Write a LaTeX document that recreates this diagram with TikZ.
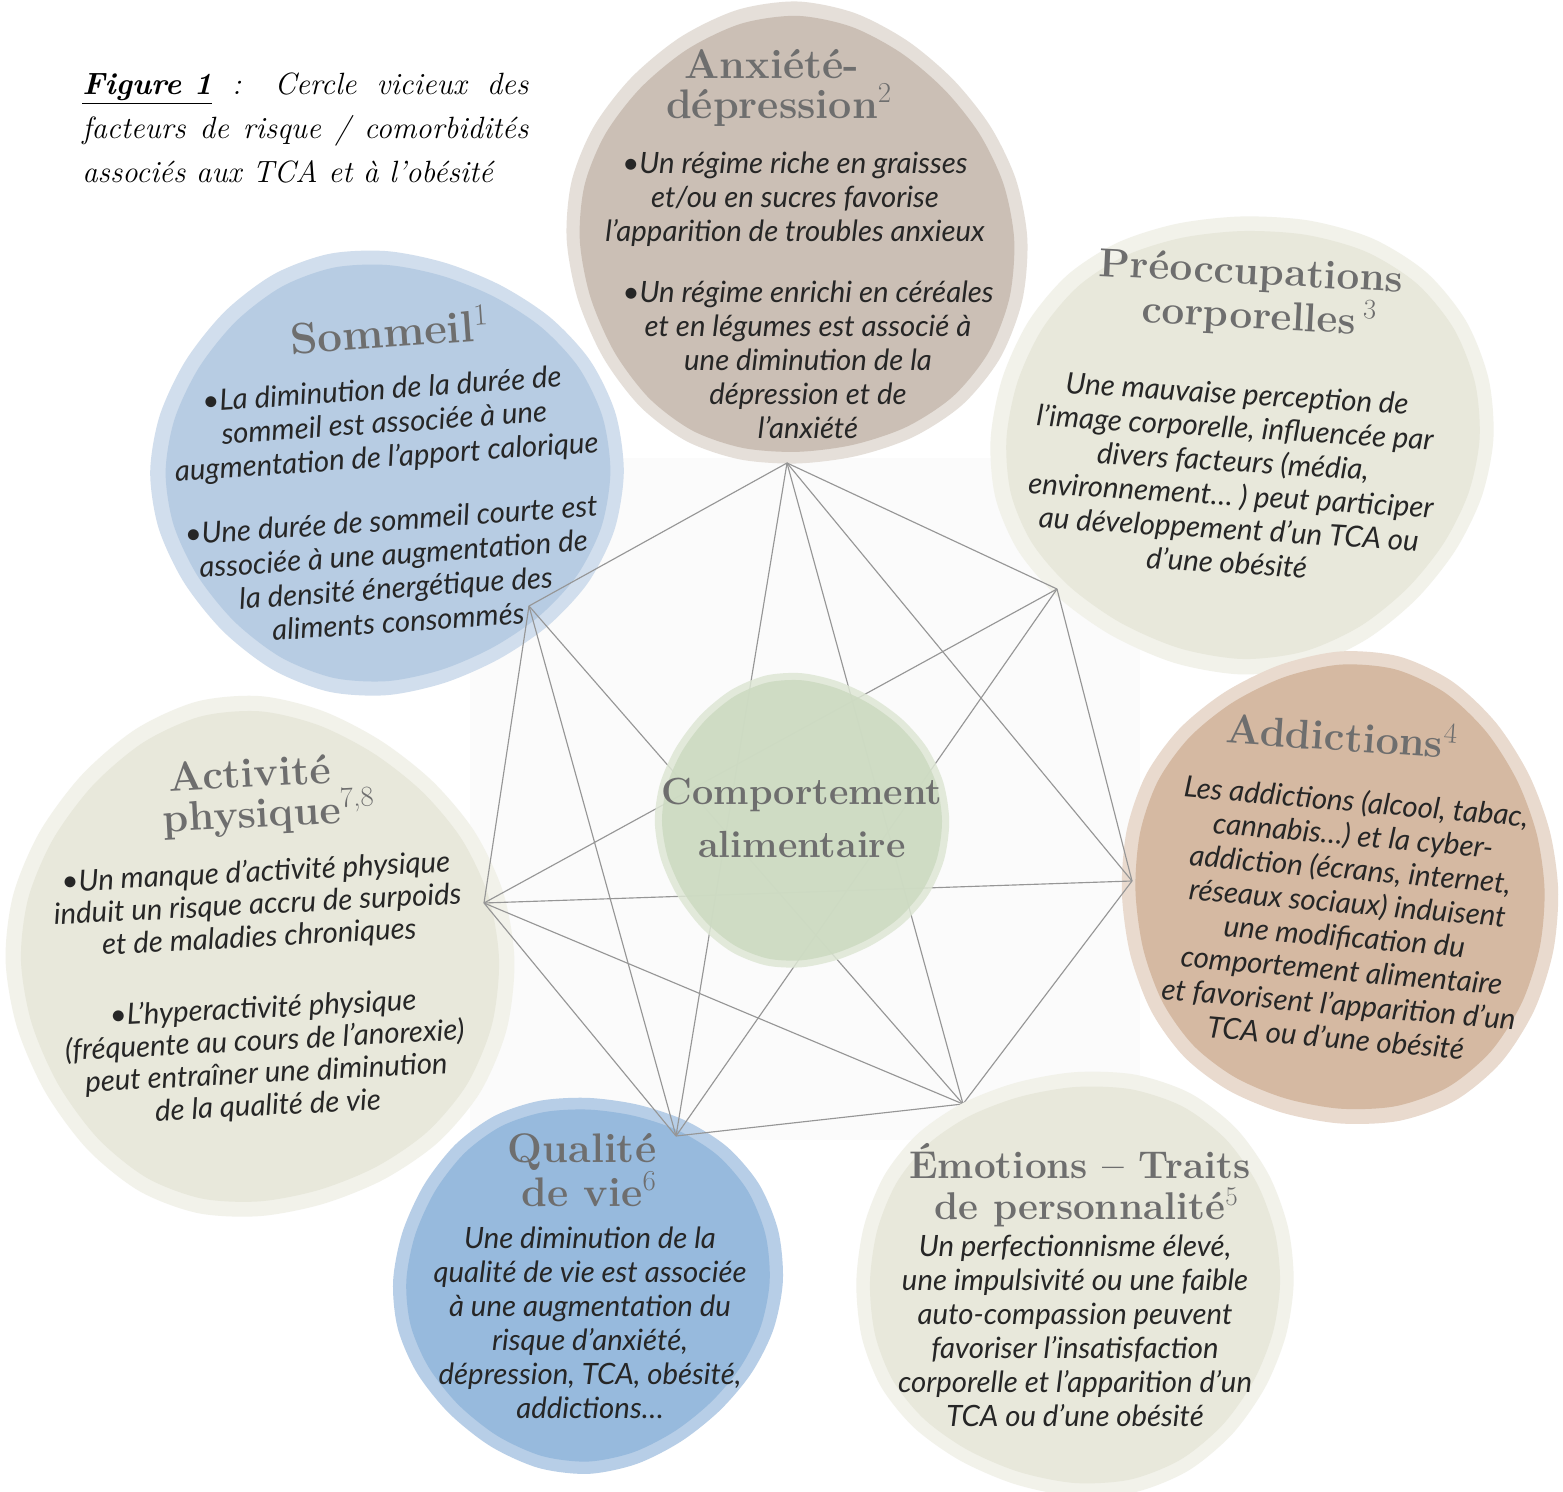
\documentclass[tikz,border=0pt]{standalone}
\usepackage{fontspec}
\usepackage{tikz}
\newfontfamily\latofont{Lato}
\definecolor{anxbrown}{RGB}{203, 191, 181}
\definecolor{anxring}{RGB}{229, 223, 217}
\definecolor{sleepblue}{RGB}{183, 204, 227}
\definecolor{sleepring}{RGB}{209, 222, 237}
\definecolor{sage}{RGB}{232, 232, 219}
\definecolor{sagering}{RGB}{242, 242, 234}
\definecolor{clay}{RGB}{213, 185, 162}
\definecolor{clayring}{RGB}{233, 218, 206}
\definecolor{lifeblue}{RGB}{151, 186, 221}
\definecolor{lifering}{RGB}{183, 206, 231}
\definecolor{leaf}{RGB}{204, 218, 193}
\definecolor{leafring}{RGB}{222, 231, 213}
\definecolor{titlegray}{RGB}{110, 110, 110}
\definecolor{inkgray}{RGB}{38, 38, 38}
\definecolor{wiregray}{RGB}{150, 150, 150}
\definecolor{backdrop}{RGB}{251, 251, 251}

% wobbly disc: centre x, centre y, radius x, radius y, phase, fill options
\newcommand{\tcablob}[6]{%
  \fill[#6] plot[smooth cycle, domain=0:345, samples=24, variable=\t]
    ({#1+#3*cos(\t)*(1+0.03*sin(2*\t+#5))}, {#2+#4*sin(\t)*(1+0.03*sin(3*\t+#5))});%
}

\tikzset{
  heading/.style={font=\fontsize{23.5}{23}\selectfont\bfseries, text=titlegray, align=center, inner sep=0pt},
  blurb/.style={font=\latofont\itshape\fontsize{16.7}{19.3}\selectfont, text=inkgray, align=center, inner sep=0pt},
  wire/.style={wiregray, line width=0.65pt},
}

\begin{document}
\begin{tikzpicture}[x=0.2mm, y=-0.2mm]
            \useasboundingbox (0,0) rectangle (1563,1492);
            \fill[white] (0,0) rectangle (1563,1492);
            \fill[backdrop] (470,458) rectangle (1140,1140);
            % Caption
            \node[anchor=north west, inner sep=0pt, text width=89.2mm, align=justify,
                  font=\itshape\fontsize{17.5}{25}\selectfont] (caption) at (82,73)
                 {\underline{\textbf{Figure 1}} : Cercle vicieux des\linebreak
                  facteurs de risque / comorbidités\linebreak
                  associés aux TCA et à l'obésité};
            % Discs
            \tcablob{797}{239}{228}{231}{20}{anxring}
            \tcablob{797}{240}{215}{218}{20}{anxbrown}
            \tcablob{387}{472}{230}{222}{100}{sleepring}
            \tcablob{388}{472}{216}{208}{100}{sleepblue}
            \tcablob{1242}{439}{254}{229}{200}{sagering}
            \tcablob{1243}{439}{239}{214}{200}{sage}
            \tcablob{1340}{891}{224}{236}{300}{clayring}
            \tcablob{1340}{890}{210}{222}{300}{clay}
            \tcablob{260}{960}{248}{260}{60}{sagering}
            \tcablob{260}{960}{233}{245}{60}{sage}
            \tcablob{588}{1281}{192}{188}{150}{lifering}
            \tcablob{588}{1281}{179}{176}{150}{lifeblue}
            % Network
            \coordinate (vAnx) at (787,463);
            \coordinate (vPre) at (1057,589);
            \coordinate (vAdd) at (1132,881);
            \coordinate (vEmo) at (963,1104);
            \coordinate (vQua) at (676,1136);
            \coordinate (vAct) at (484,903);
            \coordinate (vSom) at (529,606);
            \draw[wire] (vAnx) -- (vSom);
            \draw[wire] (vAnx) -- (vPre);
            \draw[wire] (vAnx) -- (vQua);
            \draw[wire] (vAnx) -- (vEmo);
            \draw[wire] (vAnx) -- (vAdd);
            \draw[wire] (vSom) -- (vAct);
            \draw[wire] (vSom) -- (vQua);
            \draw[wire] (vSom) -- (vEmo);
            \draw[wire] (vPre) -- (vAct);
            \draw[wire] (vPre) -- (vQua);
            \draw[wire] (vPre) -- (vAdd);
            \draw[wire] (vAct) -- (vAdd);
            \draw[wire] (vAct) -- (vEmo);
            \draw[wire] (vAct) -- (vQua);
            \draw[wire] (vAdd) -- (vEmo);
            \draw[wire] (vQua) -- (vEmo);
            % Discs above the network
            \tcablob{1075}{1282}{225}{212}{250}{sagering}
            \tcablob{1075}{1283}{211}{198}{250}{sage}
            \tcablob{802}{821}{143}{147}{80}{leafring, fill opacity=0.85}
            \tcablob{802}{821}{136}{140}{80}{leaf, fill opacity=0.85}
            % Headings
            \node[heading] (tAnx) at (772,88) {Anxiété-\\dépression\rlap{\textsuperscript{\mdseries 2}}};
            \node[heading, rotate=4, font=\fontsize{25}{25}\selectfont\bfseries] (tSom) at (382,330) {Sommeil\rlap{\textsuperscript{\mdseries 1}}};
            \node[heading, rotate=-3, font=\fontsize{23}{23}\selectfont\bfseries] (tPre) at (1250,296) {Préoccupations\\corporelles\rlap{\,\textsuperscript{\mdseries 3}}};
            \node[heading, rotate=-4] (tAdd) at (1335,733) {Addictions\rlap{\textsuperscript{\mdseries 4}}};
            \node[heading, rotate=3] (tAct) at (251,797) {Activité\\physique\rlap{\textsuperscript{\mdseries 7,8}}};
            \node[heading] (tQua) at (582,1170) {Qualité\\de vie\rlap{\textsuperscript{\mdseries 6}}};
            \node[heading, font=\fontsize{22}{23}\selectfont\bfseries] (tEmo) at (1080,1185) {Émotions – Traits\\de personnalité\rlap{\textsuperscript{\mdseries 5}}};
            \node[heading, font=\fontsize{21.5}{30}\selectfont\bfseries] (tCom) at (802,818) {Comportement\\alimentaire};
            % Texts
            \node[blurb] (bAnxA) at (795,199)
                 {•Un régime riche en graisses\\ et/ou en sucres favorise\\ l’apparition de troubles anxieux};
            \node[blurb] (bAnxB) at (808,360)
                 {•Un régime enrichi en céréales\\ et en légumes est associé à\\ une diminution de la\\ dépression et de\\ l’anxiété};
            \node[blurb, rotate=4] (bSom) at (390,505)
                 {•La diminution de la durée de\\ sommeil est associée à une\\ augmentation de l’apport calorique\\[17pt]
                  •Une durée de sommeil courte est\\ associée à une augmentation de\\ la densité énergétique des\\ aliments consommés};
            \node[blurb, rotate=-3.5] (bPre) at (1232,478)
                 {Une mauvaise perception de\\ l’image corporelle, influencée par\\ divers facteurs (média,\\ environnement… ) peut participer\\ au développement d’un TCA ou\\ d’une obésité};
            \node[blurb, rotate=-5] (bAdd) at (1346,919)
                 {Les addictions (alcool, tabac,\\ cannabis…) et la cyber-\\ addiction (écrans, internet,\\ réseaux sociaux) induisent\\ une modification du\\ comportement alimentaire\\ et favorisent l’apparition d’un\\ TCA ou d’une obésité};
            \node[blurb, rotate=3, font=\latofont\itshape\fontsize{16.7}{18.5}\selectfont] (bAct) at (262,990)
                 {•Un manque d’activité physique\\ induit un risque accru de surpoids\\ et de maladies chroniques\\[22pt]
                  •L’hyperactivité physique\\ (fréquente au cours de l’anorexie)\\ peut entraîner une diminution\\ de la qualité de vie};
            \node[blurb] (bQua) at (590,1323)
                 {Une diminution de la\\ qualité de vie est associée\\ à une augmentation du\\ risque d’anxiété,\\ dépression, TCA, obésité,\\ addictions…};
            \node[blurb] (bEmo) at (1075,1331)
                 {Un perfectionnisme élevé,\\ une impulsivité ou une faible\\ auto-compassion peuvent\\ favoriser l’insatisfaction\\ corporelle et l’apparition d’un\\ TCA ou d’une obésité};
        \end{tikzpicture}
\end{document}
